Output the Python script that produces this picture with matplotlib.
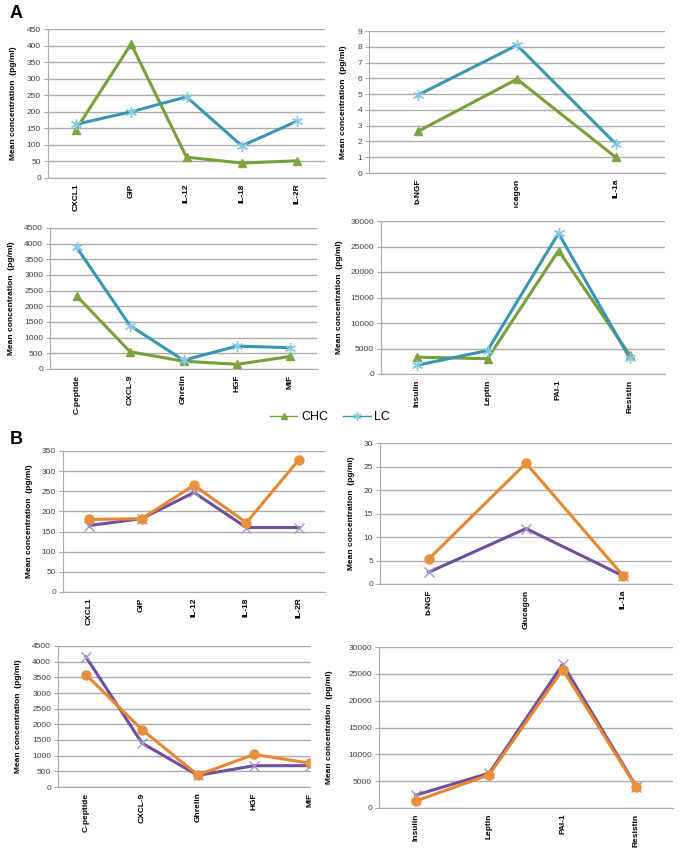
import matplotlib.pyplot as plt
from matplotlib.patches import Rectangle
from matplotlib.lines import Line2D

plt.rcParams['font.family'] = ['Liberation Sans', 'DejaVu Sans']

# ---- data ----
cat_a1 = ["CXCL1", "GIP", "IL-12", "IL-18", "IL-2R"]
chc_a1 = [145, 405, 63, 45, 52]
lc_a1 = [162, 200, 245, 97, 172]

cat_a2 = ["b-NGF", "Glucagon", "IL-1a"]
chc_a2 = [2.65, 5.95, 1.0]
lc_a2 = [4.95, 8.1, 1.85]

cat_a3 = ["C-peptide", "CXCL-9", "Ghrelin", "HGF", "MIF"]
chc_a3 = [2330, 550, 250, 150, 400]
lc_a3 = [3880, 1380, 280, 730, 680]

cat_a4 = ["Insulin", "Leptin", "PAI-1", "Resistin"]
chc_a4 = [3300, 3000, 24200, 3800]
lc_a4 = [1700, 4600, 27600, 3200]

cat_b1 = ["CXCL1", "GIP", "IL-12", "IL-18", "IL-2R"]
purple_b1 = [165, 182, 247, 160, 160]
orange_b1 = [180, 182, 265, 172, 328]

cat_b2 = ["b-NGF", "Glucagon", "IL-1a"]
purple_b2 = [2.5, 11.8, 1.7]
orange_b2 = [5.3, 25.7, 1.7]

cat_b3 = ["C-peptide", "CXCL-9", "Ghrelin", "HGF", "MIF"]
purple_b3 = [4150, 1400, 370, 680, 680]
orange_b3 = [3580, 1830, 380, 1040, 760]

cat_b4 = ["Insulin", "Leptin", "PAI-1", "Resistin"]
purple_b4 = [2400, 6500, 26800, 4000]
orange_b4 = [1300, 6200, 25800, 3900]

GREEN, GREEN_M = "#77A03A", "#7DA43E"
BLUE, BLUE_M = "#3A96B0", "#86CBE0"
ORANGE, ORANGE_M = "#E6872F", "#E8903C"
PURPLE, PURPLE_M = "#6E4F9E", "#A493CC"
GRID = "#ABABAB"
ASTER = (6, 2, 0)

W, H = 683, 858
fig = plt.figure(figsize=(W / 100, H / 100), dpi=100)


def make_ax(left, right, top, bottom):
    return fig.add_axes([left / W, 1 - bottom / H, (right - left) / W, (bottom - top) / H])


def style(ax, cats, ymax, ystep, ylab_x, xhi=None):
    n = len(cats)
    ax.set_xlim(-0.5, n - 0.5 if xhi is None else xhi)
    ax.set_ylim(0, ymax)
    ax.set_yticks(range(0, ymax + 1, ystep))
    ax.set_xticks(range(n))
    ax.set_xticklabels(cats, rotation=90, fontsize=6, fontweight='bold')
    ax.tick_params(axis='x', length=0, pad=4)
    ax.tick_params(axis='y', length=3, color=GRID, labelsize=6, labelcolor="#404040", pad=2)
    for s in ["top", "right"]:
        ax.spines[s].set_visible(False)
    for s in ["left", "bottom"]:
        ax.spines[s].set_color(GRID)
    ax.grid(axis='y', color=GRID, lw=1)
    ax.set_axisbelow(True)
    ax.set_ylabel("Mean concentration  (pg/ml)", fontsize=6, fontweight='bold')
    ax.yaxis.set_label_coords(ylab_x, 0.5)


def plot_a(ax, chc, lc):
    x = range(len(chc))
    ax.plot(x, chc, color=GREEN, lw=2.2, marker='^', ms=6, mfc=GREEN_M, mec=GREEN_M)
    ax.plot(x, lc, color=BLUE, lw=2.2, marker=ASTER, ms=8, mfc=BLUE_M, mec=BLUE_M, mew=1)


def plot_b(ax, purple, orange):
    x = range(len(purple))
    ax.plot(x, purple, color=PURPLE, lw=2.2, marker='x', ms=7, mec=PURPLE_M, mew=1)
    ax.plot(x, orange, color=ORANGE, lw=2.2, marker='o', ms=6.5, mfc=ORANGE_M, mec=ORANGE_M)


# ---- panel A ----
ax = make_ax(48, 325, 29, 178)
plot_a(ax, chc_a1, lc_a1)
style(ax, cat_a1, 450, 50, (17 - 48) / 277)

ax = make_ax(369, 665, 31, 173)
plot_a(ax, chc_a2, lc_a2)
style(ax, cat_a2, 9, 1, (347 - 369) / 296)

ax = make_ax(50, 317, 228, 369)
plot_a(ax, chc_a3, lc_a3)
style(ax, cat_a3, 4500, 500, (15 - 50) / 267)

ax = make_ax(381, 665, 221, 374)
plot_a(ax, chc_a4, lc_a4)
style(ax, cat_a4, 30000, 5000, (343 - 381) / 284)

# ---- panel B ----
ax = make_ax(63, 325, 451, 592)
plot_b(ax, purple_b1, orange_b1)
style(ax, cat_b1, 350, 50, (33 - 63) / 262)

ax = make_ax(380, 672, 443, 584)
plot_b(ax, purple_b2, orange_b2)
style(ax, cat_b2, 30, 5, (355 - 380) / 292)

# last panel on the left is cut off at its right edge in the source figure
ax = make_ax(58, 313, 646, 787)
plot_b(ax, purple_b3, orange_b3)
style(ax, cat_b3, 4500, 500, (22 - 58) / 255, xhi=-0.5 + 255 / 56)

ax = make_ax(379, 673, 647, 808)
plot_b(ax, purple_b4, orange_b4)
style(ax, cat_b4, 30000, 5000, (333 - 379) / 294)

# masks that reproduce the clipping in the source image
fig.add_artist(Rectangle((311 / W, 0), 12 / W, 1 - 600 / H, transform=fig.transFigure,
                         color="white", zorder=10))
fig.add_artist(Rectangle((505 / W, 1 - 218 / H), 45 / W, 10 / H, transform=fig.transFigure,
                         color="white", zorder=10))

# legend
handles = [
    Line2D([], [], color=GREEN, lw=1, marker='^', ms=5, mfc=GREEN_M, mec=GREEN_M),
    Line2D([], [], color=BLUE, lw=1, marker=ASTER, ms=6, mfc=BLUE_M, mec=BLUE_M),
]
fig.legend(handles, ["CHC", "LC"], loc='center', bbox_to_anchor=(330 / W, 1 - 417 / H),
           ncol=2, frameon=False, fontsize=9, handlelength=2.2, columnspacing=1.2,
           handletextpad=0.3)

fig.text(10 / W, 1 - 13 / H, "A", fontsize=13, fontweight='bold', va='center')
fig.text(10 / W, 1 - 440 / H, "B", fontsize=13, fontweight='bold', va='center')

fig.savefig("out.png", dpi=100, facecolor="white")
